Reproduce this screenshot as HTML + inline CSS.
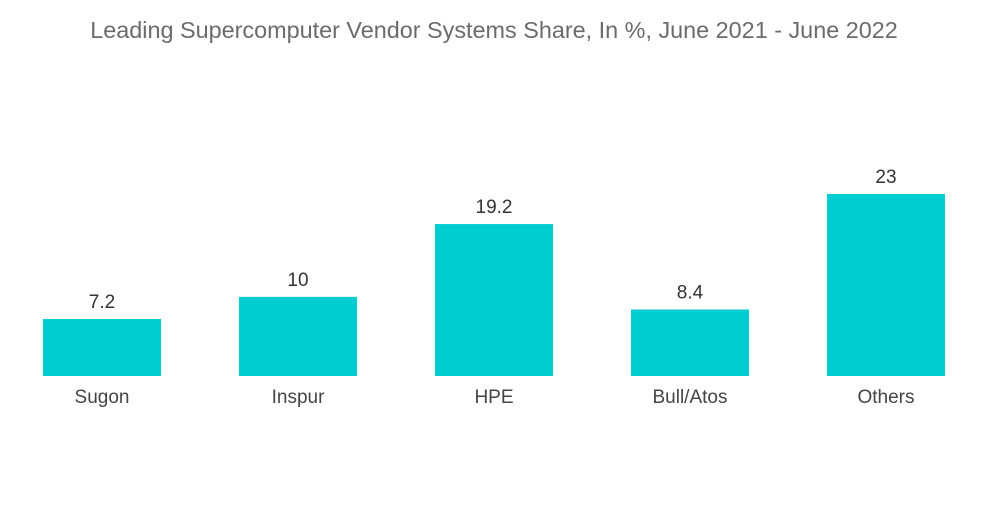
<!DOCTYPE html>
<html><head><meta charset="utf-8"><style>
body{margin:0;background:#fff;width:1000px;height:504px;overflow:hidden;font-family:"Liberation Sans",sans-serif;}
</style></head><body>
<svg width="1000" height="504">
<text x="494" y="38" text-anchor="middle" font-size="23.4" fill="#6b6b6b">Leading Supercomputer Vendor Systems Share, In %, June 2021 - June 2022</text>
<g id="bars"></g>
</svg>
<script>
const categories=["Sugon","Inspur","HPE","Bull/Atos","Others"];
const values=[7.2,10,19.2,8.4,23];
const valueLabels=["7.2","10","19.2","8.4","23"];
const base=376, scale=182/23, x0=43, step=196, bw=118;
const yS=v=>base-v*scale;
const xS=i=>x0+i*step;
const g=document.getElementById('bars');
const ns="http://www.w3.org/2000/svg";
categories.forEach((c,i)=>{
 const r=document.createElementNS(ns,'rect');
 r.setAttribute('x',xS(i));r.setAttribute('y',yS(values[i]));
 r.setAttribute('width',bw);r.setAttribute('height',base-yS(values[i]));
 r.setAttribute('fill','#00cdd0');
 
 
 g.appendChild(r);
 const t=document.createElementNS(ns,'text');
 t.setAttribute('x',xS(i)+bw/2);t.setAttribute('y',yS(values[i])-11);
 t.setAttribute('text-anchor','middle');t.setAttribute('font-size','19');t.setAttribute('fill','#333');
 t.textContent=valueLabels[i];
 
 
 g.appendChild(t);
 const l=document.createElementNS(ns,'text');
 l.setAttribute('x',xS(i)+bw/2);l.setAttribute('y',403);
 l.setAttribute('text-anchor','middle');l.setAttribute('font-size','19');l.setAttribute('fill','#444');
 l.textContent=c;
 
 
 g.appendChild(l);
});
</script>
</body></html>
